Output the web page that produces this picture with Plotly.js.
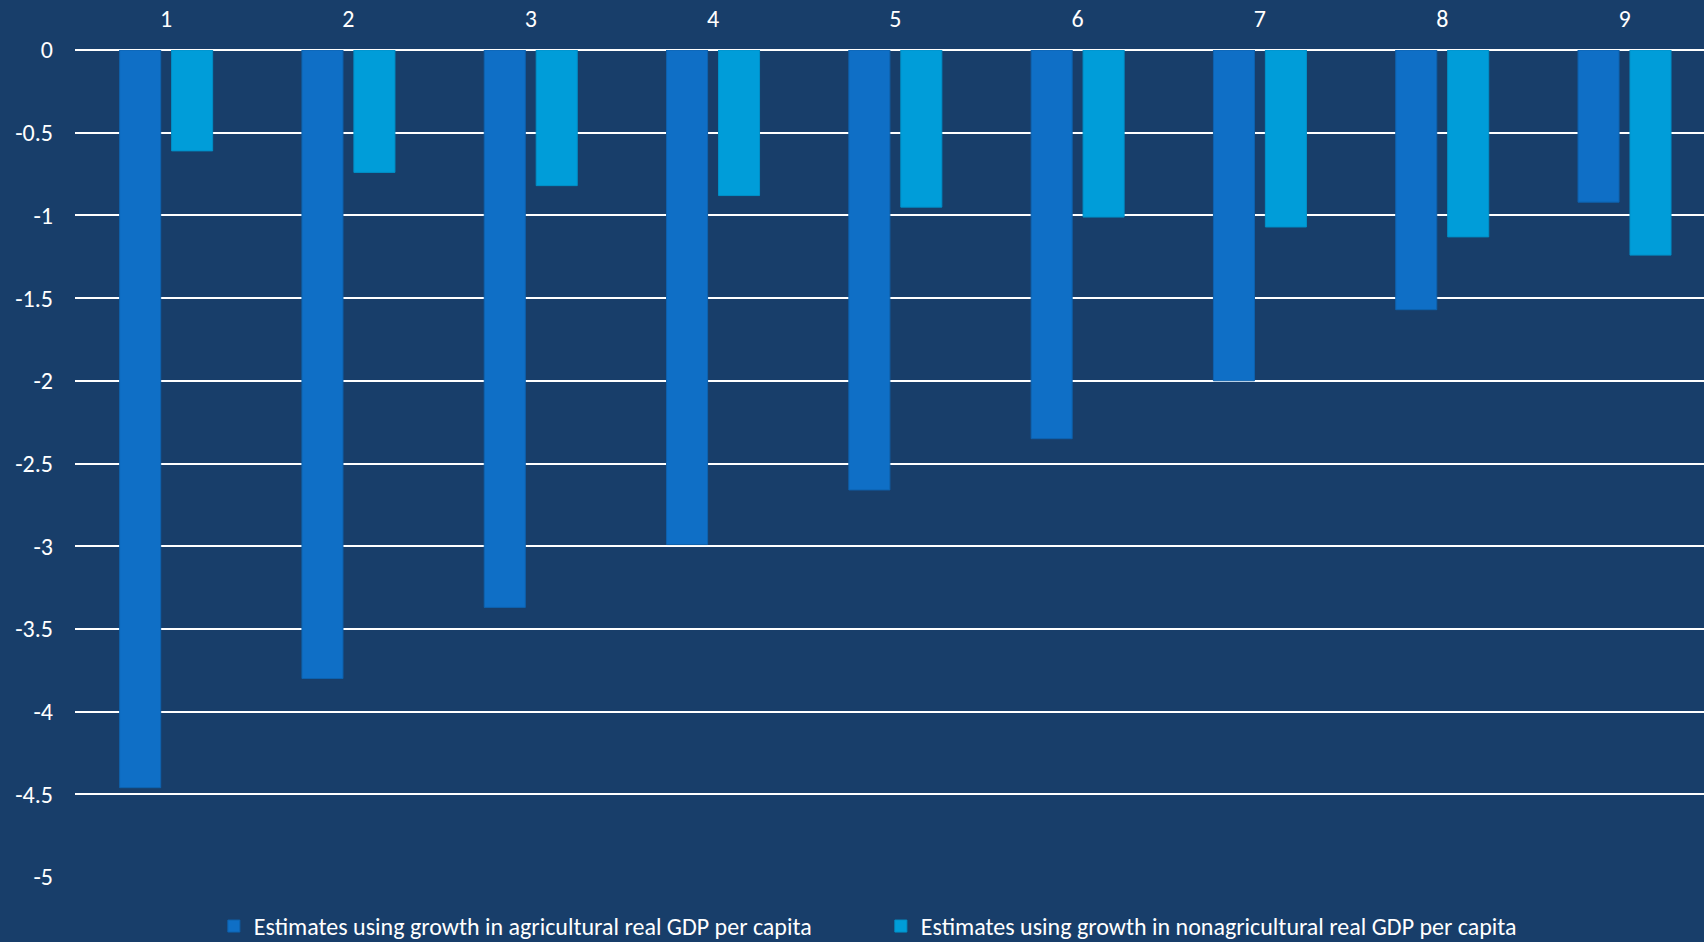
<!DOCTYPE html>
<html>
<head>
<meta charset="utf-8">
<script src="https://cdn.plot.ly/plotly-3.0.1.min.js"></script>
<style>
  html, body { margin: 0; padding: 0; background: #183E6A; }
  #chart { width: 1704px; height: 942px; }
</style>
</head>
<body>
<div id="chart"></div>
<script>
const categories = ['1', '2', '3', '4', '5', '6', '7', '8', '9'];
const agriculturalEstimates = [-4.46, -3.80, -3.37, -2.99, -2.66, -2.35, -2.00, -1.57, -0.92];
const nonagriculturalEstimates = [-0.61, -0.74, -0.82, -0.88, -0.95, -1.01, -1.07, -1.13, -1.24];
const seriesNames = [
  'Estimates using growth in agricultural real GDP per capita',
  'Estimates using growth in nonagricultural real GDP per capita'
];
const yTickValues = [0, -0.5, -1, -1.5, -2, -2.5, -3, -3.5, -4, -4.5, -5];
const yTickLabels = ['0', '-0.5', '-1', '-1.5', '-2', '-2.5', '-3', '-3.5', '-4', '-4.5', '-5'];

const fontFamily = 'Carlito, Lato, "Open Sans", sans-serif';

const traces = [
  {
    type: 'bar',
    name: seriesNames[0],
    x: categories,
    y: agriculturalEstimates,
    marker: { color: '#0F6FC6', line: { color: '#0E62AE', width: 1 } },
    hoverinfo: 'x+y'
  },
  {
    type: 'bar',
    name: seriesNames[1],
    x: categories,
    y: nonagriculturalEstimates,
    marker: { color: '#009DD9', line: { color: '#0090C8', width: 1 } },
    hoverinfo: 'x+y'
  }
];

const layout = {
  width: 1704,
  height: 942,
  paper_bgcolor: '#183E6A',
  plot_bgcolor: '#183E6A',
  margin: { l: 75, r: 0, t: 50, b: 65 },
  barmode: 'group',
  bargap: 0.43,
  bargroupgap: 0.21,
  font: { family: fontFamily, color: '#FFFFFF', size: 24 },
  showlegend: true,
  legend: {
    orientation: 'h',
    xref: 'container',
    yref: 'container',
    x: 0.1255,
    xanchor: 'left',
    y: 0.0165,
    yanchor: 'middle',
    font: { family: fontFamily, size: 24, color: '#FFFFFF' },
    bgcolor: 'rgba(0,0,0,0)',
    entrywidth: 622,
    traceorder: 'normal'
  },
  xaxis: {
    type: 'category',
    side: 'top',
    range: [-0.5, 8.436],
    showgrid: false,
    zeroline: false,
    showline: false,
    ticks: '',
    ticklabelstandoff: 17,
    tickfont: { family: fontFamily, size: 24, color: '#FFFFFF' },
    fixedrange: true
  },
  yaxis: {
    range: [-5, 0],
    tickvals: yTickValues,
    ticktext: yTickLabels,
    showgrid: true,
    gridcolor: '#FFFFFF',
    gridwidth: 2,
    zeroline: true,
    zerolinecolor: '#FFFFFF',
    zerolinewidth: 2,
    showline: false,
    ticks: '',
    ticklabelstandoff: 21,
    tickfont: { family: fontFamily, size: 24, color: '#FFFFFF' },
    fixedrange: true
  }
};

Plotly.newPlot('chart', traces, layout, { displayModeBar: false, staticPlot: true });
</script>
</body>
</html>
